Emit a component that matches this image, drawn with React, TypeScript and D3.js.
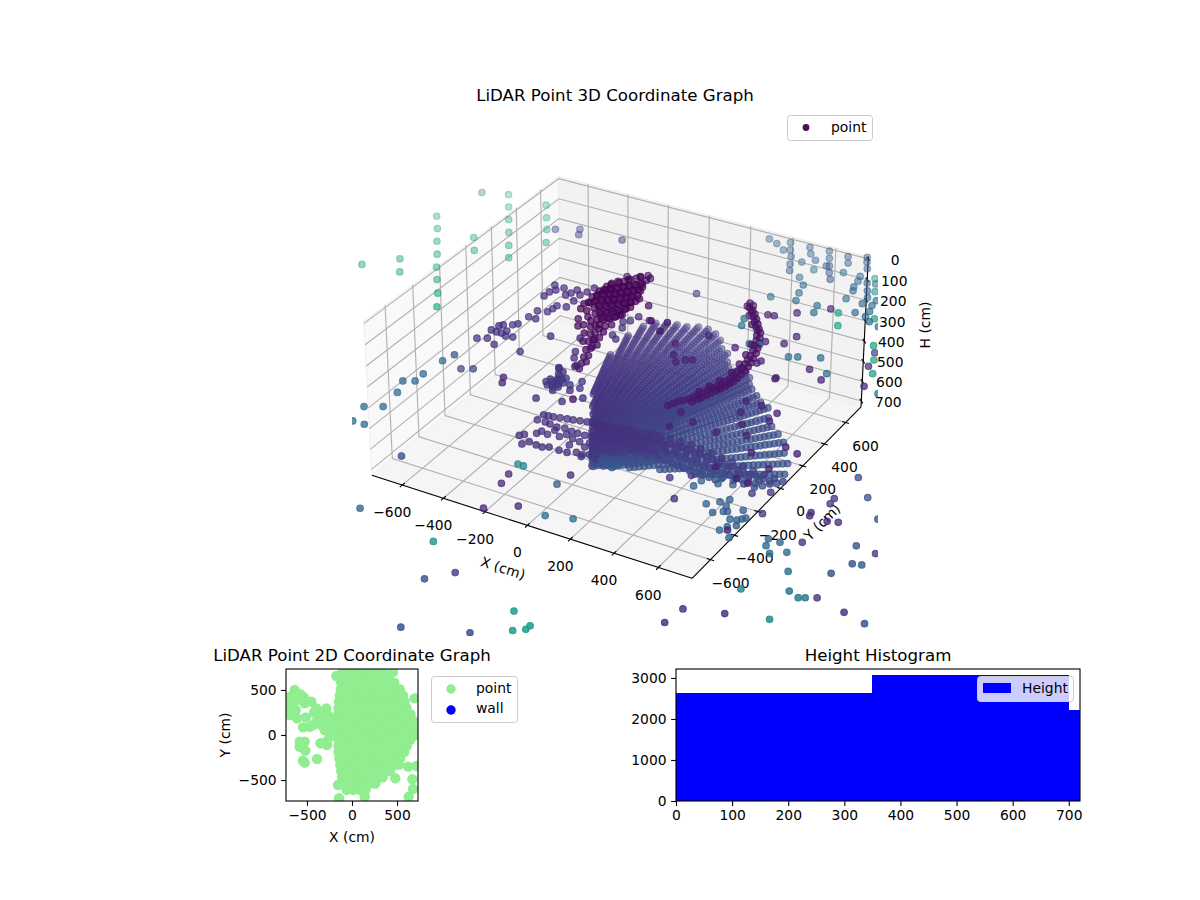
import React, { useEffect, useRef } from 'react';
import * as d3 from 'd3';

type Tri = [number, number, number];

// ---- 3D view: ticks and limits (cm), H axis runs downwards
const xyTicks = [-600, -400, -200, 0, 200, 400, 600];
const hTicks = [0, 100, 200, 300, 400, 500, 600, 700];
const xyLimit = 750;
const hTop = -11;
const hFloor = 729;

// ---- the sweep: rays from the scanner, stops along each ray (cm)
const fanOriginX = 15;
const fanOriginY = -531;
const fanHeight = 600;
const rayAngles = [108, 106, 104, 102, 100, 98, 96, 94, 92, 90, 88, 86, 84, 82, 80, 78, 76, 74, 72, 70, 67, 64, 61, 57, 53, 49, 45, 40, 35, 30];
const rayStart = [635, 550, 480, 427, 386, 350, 325, 300, 280, 264, 250, 236, 225, 213, 205, 197, 190, 182, 178, 172, 165, 158, 153, 147, 150, 185, 222, 280, 395, 536];
const rayReach = [1000, 1180, 1280, 1310, 1340, 1345, 1340, 1360, 1365, 1345, 1290, 1235, 1215, 1150, 1110, 1150, 1130, 1110, 1080, 1060, 1045, 1025, 1012, 985, 960, 953, 955, 945, 935, 925];
const rayTone = [0.15, 0.15, 0.15, 0.16, 0.16, 0.16, 0.17, 0.17, 0.17, 0.18, 0.18, 0.18, 0.18, 0.19, 0.19, 0.19, 0.2, 0.2, 0.2, 0.21, 0.21, 0.22, 0.22, 0.23, 0.23, 0.24, 0.24, 0.25, 0.25, 0.26];
const rayStops = [130, 150, 170, 190, 210, 230, 250, 270, 290, 310, 330, 350, 370, 390, 410, 430, 450, 470, 490, 510, 530, 550, 570, 590, 610, 630, 650, 670, 690, 710, 730, 750, 770, 790, 810, 830, 850, 870, 890, 910, 930, 950, 970, 990, 1010, 1030, 1050, 1070, 1090, 1110, 1130, 1150, 1170, 1190, 1210, 1230, 1250, 1270, 1290, 1310, 1330, 1350, 1370];

// ---- single returns: [x, y, colour value]
const paleWall: Tri[] = [
  [-1367, 110, 0.58], [-1253, 236, 0.58], [-1186, 135, 0.58], [-1338, 659, 0.58], [-1269, 559, 0.58], [-1204, 456, 0.58],
  [-1136, 354, 0.58], [-1072, 251, 0.58], [-1008, 157, 0.58], [-938, 56, 0.58], [-875, -47, 0.58], [-1082, 567, 0.58],
  [-1014, 465, 0.58], [-1173, 1004, 0.58], [-1107, 899, 0.58], [-1041, 793, 0.58], [-974, 687, 0.58], [-908, 581, 0.58],
  [-847, 483, 0.58], [-970, 999, 0.58], [-903, 893, 0.58], [-842, 795, 0.58], [-780, 687, 0.58], [-1290, 962, 0.38],
];
const rightWall: Tri[] = [
  [58, 1210, 0.3], [107, 1187, 0.3], [160, 1147, 0.3], [155, 1226, 0.3], [186, 1163, 0.3], [217, 1110, 0.3], [245, 1045, 0.3], [271, 990, 0.3],
  [281, 1087, 0.36], [358, 1050, 0.38], [249, 1229, 0.3], [280, 1176, 0.3], [325, 1132, 0.3], [339, 1240, 0.3], [370, 1178, 0.3], [401, 1115, 0.28],
  [390, 1108, 0.28], [428, 1059, 0.28], [459, 1006, 0.28], [336, 957, 0.34], [382, 902, 0.34], [398, 830, 0.34], [309, 739, 0.37], [418, 762, 0.34],
  [516, 767, 0.37], [531, 706, 0.34], [433, 1234, 0.28], [460, 1179, 0.28], [481, 1090, 0.36], [559, 1095, 0.34], [570, 1051, 0.34], [577, 995, 0.34],
  [590, 962, 0.34], [612, 1055, 0.3], [647, 1066, 0.34], [643, 993, 0.3], [670, 938, 0.32], [714, 932, 0.32], [595, 884, 0.38], [674, 879, 0.34],
  [682, 793, 0.34], [717, 884, 0.32], [731, 832, 0.34], [735, 783, 0.34], [768, 752, 0.34], [527, 1229, 0.28], [555, 1174, 0.28], [509, 1269, 0.28],
  [820, 731, 0.37], [856, 702, 0.38], [864, 706, 0.38],
];
const rightTeal: Tri[] = [
  [623, 1109, 0.58], [675, 1002, 0.52], [776, 785, 0.56], [622, 755, 0.58], [669, 655, 0.58], [872, 576, 0.56], [925, 469, 0.58], [969, 366, 0.56],
  [1057, 232, 0.42], [1140, 113, 0.3], [807, 273, 0.36], [728, 376, 0.36], [643, 336, 0.37], [610, 317, 0.37], [301, 512, 0.37], [320, 454, 0.37], [419, 334, 0.37], [460, 349, 0.37],
];
const darkReturns: Tri[] = [
  [22, 605, 0.18], [372, 592, 0.1], [399, 598, 0.1], [471, 668, 0.1], [579, 770, 0.1], [562, 485, 0.1], [544, 406, 0.1], [731, 269, 0.1], [810, 216, 0.1],
  [983, 257, 0.12], [928, 412, 0.14], [644, 140, 0.1], [902, 525, 0.2],
  [441, -290, 0.1], [455, -409, 0.1], [519, -334, 0.1], [635, -355, 0.1], [647, -171, 0.1], [694, -252, 0.1], [626, -85, 0.1], [695, -85, 0.1], [777, -175, 0.1],
  [776, -107, 0.1], [751, -318, 0.1], [940, -493, 0.1], [923, -318, 0.1], [984, -340, 0.1], [826, -421, 0.1], [864, -615, 0.1], [917, -624, 0.1], [755, -580, 0.1],
  [255, 83, 0.1], [281, 98, 0.1], [241, 311, 0.1], [384, 275, 0.1], [521, 207, 0.1], [528, 231, 0.1], [644, 131, 0.1], [469, 383, 0.1], [154, 182, 0.1], [193, 96, 0.1], [230, 49, 0.1], [-36, 298, 0.08], [38, 321, 0.08],
];
const leftWall: Tri[] = [
  [-588, -354, 0.25], [-603, -420, 0.36], [-502, -438, 0.22], [-459, -413, 0.22], [-613, -549, 0.33], [-653, -638, 0.33], [-610, -613, 0.36], [-621, -725, 0.36],
  [-650, -998, 0.38], [-674, -884, 0.38], [-608, -846, 0.38], [-596, -996, 0.38], [-336, -1121, 0.25],
];
const upperArc: Tri[] = [
  [259, 645, 0.05], [277, 606, 0.05], [301, 580, 0.05], [326, 546, 0.05], [351, 511, 0.05], [375, 476, 0.05], [396, 449, 0.05], [414, 410, 0.05], [432, 371, 0.05], [445, 330, 0.05], [459, 289, 0.05],
  [470, 246, 0.05], [476, 210, 0.05], [482, 175, 0.05], [488, 138, 0.05], [485, 108, 0.06], [487, 70, 0.06], [486, 40, 0.06], [480, 16, 0.06], [477, -14, 0.06], [468, -40, 0.06], [461, -63, 0.06],
  [452, -88, 0.07], [445, -111, 0.07], [436, -137, 0.07], [429, -159, 0.07], [419, -185, 0.07], [405, -204, 0.07], [391, -221, 0.07], [381, -247, 0.07], [371, -271, 0.07],
  [261, 616, 0.05], [307, 545, 0.05], [353, 483, 0.05], [430, 332, 0.05], [450, 245, 0.05], [463, 164, 0.05], [468, 88, 0.06], [458, 4, 0.06], [442, -55, 0.06], [426, -113, 0.07],
  [281, 633, 0.04], [299, 594, 0.04], [323, 568, 0.04], [348, 534, 0.04], [373, 499, 0.04], [397, 464, 0.04], [418, 437, 0.04], [436, 398, 0.04], [454, 359, 0.04], [467, 318, 0.04], [481, 277, 0.04],
  [492, 234, 0.04], [498, 198, 0.04], [504, 163, 0.04], [510, 126, 0.04], [507, 96, 0.05], [509, 58, 0.05], [508, 28, 0.05], [502, 4, 0.05], [499, -26, 0.05], [490, -52, 0.05], [483, -75, 0.05],
  [474, -100, 0.06], [467, -123, 0.06], [458, -149, 0.06], [451, -171, 0.06], [441, -197, 0.06],
];

// the dark cluster behind the sweep, all at 200 cm
const darkCluster: Tri[] = [
  [-252, 314, 0.01], [-247, 348, 0.01], [-233, 376, 0.01], [-211, 389, 0.01], [-198, 417, 0.01], [-179, 437, 0.01], [-172, 460, 0.01], [-148, 484, 0.02], [-133, 443, 0.02], [-131, 405, 0.01], [-127, 467, 0.02],
  [-257, 262, 0.01], [-239, 283, 0.01], [-222, 303, 0.01], [-203, 324, 0.01], [-185, 344, 0.01], [-167, 364, 0.01], [-149, 385, 0.01], [-118, 383, 0.02],
  [-257, 203, 0.01], [-248, 229, 0.01], [-225, 242, 0.01], [-203, 255, 0.01], [-185, 275, 0.01], [-166, 295, 0.01], [-149, 315, 0.01], [-131, 335, 0.01], [-108, 348, 0.01],
  [-257, 134, 0.02], [-240, 154, 0.01], [-225, 182, 0.01], [-203, 195, 0.01], [-181, 208, 0.01], [-162, 227, 0.01], [-145, 248, 0.01], [-127, 268, 0.01], [-108, 289, 0.01], [-78, 287, 0.02],
  [-203, 125, 0.01], [-185, 145, 0.01], [-162, 158, 0.01], [-145, 179, 0.01], [-127, 199, 0.01], [-108, 220, 0.01], [-91, 240, 0.01], [-15, 254, 0.02],
  [-186, 46, 0.02], [-173, 83, 0.01], [-151, 96, 0.01], [-133, 116, 0.01], [-115, 136, 0.01], [-97, 157, 0.01], [-84, 185, 0.01],
  [-212, 11, 0.04], [-167, -22, 0.03], [-141, 43, 0.01], [-118, 56, 0.01], [-100, 76, 0.01], [-86, 104, 0.01], [-72, 132, 0.02],
  [-85, 15, 0.02], [-94, -20, 0.02], [-67, 36, 0.02],
  [-103, -74, 0.03], [-80, -130, 0.03], [-53, -195, 0.04], [-30, -251, 0.05], [-12, -299, 0.06], [2, -340, 0.07], [-22, -334, 0.07], [-133, -22, 0.03], [-66, -102, 0.04], [-44, -159, 0.04], [-99, -141, 0.04],
  [-247, 282, 0], [-229, 303, 0], [-212, 323, 0], [-193, 344, 0], [-175, 364, 0], [-157, 384, 0], [-139, 405, 0],
  [-247, 223, 0], [-238, 249, 0], [-215, 262, 0], [-193, 275, 0], [-175, 295, 0], [-156, 315, 0], [-139, 335, 0], [-121, 355, 0],
  [-247, 154, 0], [-230, 174, 0], [-215, 202, 0], [-193, 215, 0], [-171, 228, 0], [-152, 247, 0], [-135, 268, 0], [-117, 288, 0], [-98, 309, 0],
  [-193, 145, 0], [-175, 165, 0], [-152, 178, 0], [-135, 199, 0], [-117, 219, 0], [-98, 240, 0], [-81, 260, 0],
  [-163, 103, 0], [-141, 116, 0], [-123, 136, 0], [-105, 156, 0], [-87, 177, 0], [-74, 205, 0],
  [-131, 63, 0], [-108, 76, 0], [-90, 96, 0], [-76, 124, 0],
  [-93, -54, 0.02], [-70, -110, 0.02], [-43, -175, 0.03], [-20, -231, 0.04], [-2, -279, 0.05], [-123, -2, 0.02], [-56, -82, 0.03], [-34, -139, 0.03],
  [-243, 334, 0], [-223, 368, 0], [-201, 409, 0], [-169, 457, 0],
  [-247, 91, 0.01], [-216, 88, 0.01], [-182, -41, 0.02], [-129, -80, 0.02], [-158, 22, 0.01], [-111, 10, 0.01], [-66, -33, 0.02],
];
const midPurple: Tri[] = [
  [-487, -336, 0.14], [-450, -315, 0.14], [-399, -344, 0.14], [-473, -248, 0.14], [-446, -252, 0.14], [-453, -188, 0.14], [-464, -204, 0.14], [-423, -250, 0.14], [-413, -224, 0.14], [-395, -263, 0.14], [-365, -255, 0.14],
  [-420, -168, 0.16], [-405, -150, 0.14], [-398, -77, 0.14], [-394, -15, 0.13], [-364, -77, 0.13], [-353, -1, 0.13], [-348, 32, 0.13], [-346, 63, 0.13], [-307, 74, 0.13], [-437, 109, 0.12], [-436, 150, 0.12],
  [-447, 213, 0.12], [-421, 178, 0.12], [-400, 210, 0.12], [-363, 162, 0.12], [-352, 187, 0.12], [-343, 223, 0.12], [-307, 134, 0.12], [-311, 192, 0.12], [-298, 229, 0.12], [-289, 274, 0.12],
  [-235, -171, 0.13], [-276, -342, 0.16], [-69, -381, 0.13], [-41, -396, 0.13], [-225, -551, 0.12], [-206, -590, 0.12], [-27, -625, 0.15], [-711, 654, 0.2], [-618, 708, 0.2], [-596, 661, 0.2], [-407, 712, 0.13],
  [-221, 432, 0.08], [-4, 151, 0.12], [-17, 104, 0.13], [-39, 82, 0.13], [-16, 35, 0.14], [8, -59, 0.15], [-20, -37, 0.14], [-122, -125, 0.12], [-82, -230, 0.12], [-60, -277, 0.14], [-19, -323, 0.15], [58, 147, 0.05], [131, 90, 0.05],
  [-40, -483, 0.17], [-30, -458, 0.17], [-42, -515, 0.17], [-14, -519, 0.17], [-11, -448, 0.17], [-4, -433, 0.17], [-48, -418, 0.17], [-1, -541, 0.17], [4, -508, 0.17], [36, -470, 0.15], [58, -507, 0.15], [83, -472, 0.17], [64, -423, 0.17], [-73, -374, 0.15],
  [75, -596, 0.15], [103, -559, 0.06], [133, -533, 0.15], [148, -464, 0.18],
  [-25, -470, 0.17], [-20, -495, 0.17], [-55, -470, 0.17], [-35, -430, 0.17], [-60, -495, 0.17], [-15, -470, 0.17], [5, -470, 0.17], [-28, -505, 0.17], [-5, -490, 0.17],
];

// the front band across the sweep, all at 450 cm
const frontBand: Tri[] = [
  [-150, -372, 0.14], [-129, -369, 0.13], [-107, -366, 0.13], [-79, -359, 0.13], [-50, -352, 0.13], [-25, -347, 0.13], [3, -339, 0.13], [32, -332, 0.13], [57, -327, 0.13], [85, -320, 0.13], [118, -320, 0.14], [143, -315, 0.14], [171, -308, 0.14], [200, -300, 0.14], [229, -302, 0.14], [257, -295, 0.15], [286, -288, 0.15], [311, -283, 0.15], [339, -276, 0.15],
  [-151, -419, 0.14], [-115, -417, 0.14], [-90, -421, 0.14], [-53, -428, 0.14], [-21, -419, 0.14], [15, -426, 0.14], [44, -427, 0.14], [77, -427, 0.14], [105, -420, 0.14], [125, -390, 0.14], [154, -383, 0.14], [186, -383, 0.14], [216, -376, 0.15], [244, -368, 0.15], [273, -361, 0.15], [301, -354, 0.15], [330, -347, 0.15], [358, -340, 0.15], [387, -333, 0.15],
  [-90, -486, 0.14], [-57, -495, 0.14], [-48, -453, 0.14], [-7, -485, 0.14], [10, -457, 0.14], [48, -473, 0.14], [84, -479, 0.14], [123, -466, 0.15], [159, -464, 0.15], [191, -455, 0.15], [223, -446, 0.15], [255, -437, 0.16], [287, -427, 0.16], [319, -418, 0.16], [351, -409, 0.16], [383, -400, 0.16],
  [-107, -609, 0.13], [-91, -580, 0.13], [-54, -587, 0.13], [-25, -589, 0.13], [-1, -575, 0.13], [46, -576, 0.14], [82, -574, 0.14], [114, -555, 0.14], [143, -557, 0.15], [167, -543, 0.15], [208, -557, 0.15], [147, -573, 0.15], [-151, -559, 0.14], [-137, -542, 0.14], [-99, -510, 0.14], [61, -521, 0.14], [122, -504, 0.14],
  [387, -277, 0.15], [434, -277, 0.16], [481, -278, 0.16], [532, -286, 0.16], [583, -294, 0.17], [634, -302, 0.17], [685, -309, 0.18], [737, -317, 0.19], [788, -325, 0.2], [839, -333, 0.2], [886, -334, 0.21], [926, -338, 0.21],
  [402, -343, 0.16], [449, -344, 0.17], [496, -344, 0.17], [547, -352, 0.18], [594, -353, 0.18], [646, -361, 0.19], [697, -369, 0.19], [744, -369, 0.2], [795, -377, 0.21], [842, -378, 0.22], [889, -379, 0.22],
  [412, -402, 0.22], [459, -403, 0.22], [510, -410, 0.23], [562, -418, 0.23], [609, -419, 0.23], [660, -427, 0.24], [707, -428, 0.24], [754, -428, 0.25], [801, -429, 0.25], [848, -430, 0.25],
  [233, -561, 0.26], [268, -579, 0.27], [293, -583, 0.27], [303, -559, 0.27], [303, -521, 0.26], [261, -545, 0.26], [319, -483, 0.25], [358, -470, 0.25], [401, -464, 0.25],
  [100, -355, 0.13], [130, -352, 0.13], [160, -350, 0.13], [190, -348, 0.14], [220, -340, 0.14], [250, -335, 0.14], [280, -330, 0.14], [310, -325, 0.14], [340, -320, 0.15], [370, -318, 0.15], [400, -312, 0.15], [430, -310, 0.15], [460, -312, 0.15], [490, -312, 0.16], [520, -318, 0.16], [550, -322, 0.16], [580, -325, 0.17], [610, -330, 0.17], [640, -335, 0.17], [670, -340, 0.18], [700, -345, 0.18], [730, -350, 0.18], [760, -352, 0.19], [790, -355, 0.2], [820, -358, 0.2], [850, -358, 0.21], [880, -360, 0.21], [910, -360, 0.22],
  [120, -400, 0.14], [150, -415, 0.14], [180, -415, 0.14], [210, -410, 0.14], [240, -405, 0.15], [270, -400, 0.15], [300, -395, 0.15], [330, -390, 0.15], [360, -385, 0.16], [390, -380, 0.16], [420, -378, 0.16], [450, -378, 0.17], [480, -378, 0.17], [510, -380, 0.17], [540, -385, 0.18], [570, -388, 0.18], [600, -392, 0.19], [630, -395, 0.19], [660, -398, 0.2], [690, -400, 0.2], [720, -402, 0.21], [750, -404, 0.22], [780, -405, 0.22], [810, -405, 0.23], [840, -405, 0.23], [870, -405, 0.24],
  [150, -490, 0.15], [180, -490, 0.15], [210, -485, 0.16], [240, -480, 0.16], [270, -470, 0.17], [300, -460, 0.17], [330, -450, 0.18], [360, -440, 0.18], [390, -435, 0.19], [420, -432, 0.19], [450, -432, 0.2], [480, -435, 0.2], [510, -440, 0.21], [540, -445, 0.21], [570, -450, 0.22], [600, -450, 0.23], [630, -452, 0.23], [660, -455, 0.24], [690, -458, 0.24],
];

// floor level returns, all at 600 cm
const floorPoints: Tri[] = [
  [528, -336, 0.3], [536, -286, 0.3], [605, -273, 0.3], [599, -232, 0.3], [660, -250, 0.3], [635, -427, 0.3], [675, -387, 0.3], [701, -353, 0.3], [687, -470, 0.3], [720, -442, 0.3], [734, -434, 0.3], [711, -402, 0.3], [769, -478, 0.32],
  [784, -396, 0.3], [819, -440, 0.3], [809, -454, 0.3], [796, -470, 0.3], [812, -506, 0.3], [785, -531, 0.32], [770, -567, 0.34], [828, -597, 0.32], [964, -527, 0.35], [978, -574, 0.35], [1015, -615, 0.36], [1069, -575, 0.36], [1014, -526, 0.35],
  [415, -329, 0.13], [482, -271, 0.13], [507, -457, 0.13], [797, -551, 0.1], [861, -379, 0.16], [756, -268, 0.16], [817, -224, 0.16],
  [1089, -483, 0.17], [1029, -300, 0.12], [1023, -276, 0.12], [1106, -301, 0.12], [1147, -286, 0.15], [1060, -182, 0.17], [1057, -139, 0.15], [1071, 50, 0.2], [1169, -66, 0.25], [1272, -188, 0.25], [1281, -400, 0.25], [1369, -412, 0.2],
  [1322, -520, 0.25], [1357, -509, 0.3], [1281, -619, 0.25], [1308, -792, 0.2], [1438, -827, 0.17], [1536, -855, 0.27], [1133, -689, 0.38], [1197, -805, 0.38], [1246, -827, 0.4], [1269, -814, 0.4], [1032, -883, 0.45], [1218, -1006, 0.47], [906, -1108, 0.17], [1056, -1057, 0.17], [890, -1219, 0.17],
  [-168, -547, 0.45], [-141, -548, 0.45], [-160, -630, 0.12], [-148, -704, 0.12], [60, -512, 0.12], [48, -598, 0.3], [-112, -895, 0.12], [-1, -813, 0.12], [127, -819, 0.35], [234, -784, 0.38], [-534, -1139, 0.3], [-153, -1193, 0.5], [37, -1331, 0.2], [-41, -1425, 0.25],
  [366, -1436, 0.55], [58, -1734, 0.27], [299, -1636, 0.25], [428, -1545, 0.55], [466, -1514, 0.55], [468, -1487, 0.55], [427, -1622, 0.55], [205, -1784, 0.27],
];

const scatterGroups: { h: number; points: Tri[] }[] = [
  { h: 300, points: paleWall },
  { h: 300, points: rightWall },
  { h: 300, points: rightTeal },
  { h: 300, points: darkReturns },
  { h: 300, points: leftWall },
  { h: 300, points: upperArc },
  { h: 200, points: darkCluster },
  { h: 200, points: midPurple },
  { h: 450, points: frontBand },
  { h: 600, points: floorPoints },
];

// ---- 2D panel, rows of the solid area: [y, x values]
const topRows: [number, number[]][] = [
  [720, [-100, -25, 50, 125, 200, 275, 340]],
  [650, [-110, -35, 40, 115, 190, 265, 340, 400]],
  [580, [-120, -45, 30, 105, 180, 255, 330, 405, 470]],
  [510, [-125, -50, 25, 100, 175, 250, 325, 400, 475, 530]],
  [440, [-135, -65, 10, 85, 160, 235, 310, 385, 460, 535, 565]],
  [370, [-145, -75, 0, 75, 150, 225, 300, 375, 450, 525, 585]],
  [300, [-150, -75, 0, 75, 150, 225, 300, 375, 450, 525, 605]],
  [230, [-150, -75, 0, 75, 150, 225, 300, 375, 450, 525, 600, 650]],
  [160, [-150, -75, 0, 75, 150, 225, 300, 375, 450, 525, 600, 680]],
  [90, [-150, -75, 0, 75, 150, 225, 300, 375, 450, 525, 600, 680]],
  [20, [-150, -75, 0, 75, 150, 225, 300, 375, 450, 525, 600, 650]],
  [-50, [-150, -75, 0, 75, 150, 225, 300, 375, 450, 525, 600, 650]],
  [-120, [-150, -75, 0, 75, 150, 225, 300, 375, 450, 525, 610]],
  [-190, [-150, -75, 0, 75, 150, 225, 300, 375, 450, 525, 580]],
  [-260, [-140, -65, 10, 85, 160, 235, 310, 385, 460, 535]],
  [-330, [-130, -55, 20, 95, 170, 245, 320, 395, 470, 520]],
  [-400, [-120, -45, 30, 105, 180, 255, 330, 420]],
  [-470, [-110, -35, 40, 115, 190, 265, 340]],
  [-540, [-100, -25, 50, 125, 200, 260]],
  [-610, [-60, 15, 90, 150]],
];
const topLobesX = [-174, 455, -636, -692, -610, -692, -625, -610, -514, -692, -533, -451, -525, -396, -285, -359, -285, -433, -544, -340, -581, -525, -581, -518, -351, -277, -544, -525, -388, -470, -396, -303, -248, -248, -303, -248, -285, 695, 714, 714, 622, 670, 677, 629, 481, -144, 141, -155, 307, -680, -570, -640, -420, -220, -225];
const topLobesY = [655, 700, 500, 425, 388, 296, 277, 185, 196, 222, 418, 370, 352, 296, 296, 222, 203, 111, 85, 111, -74, -74, -130, -174, -92, -111, -285, -307, -266, 92, 148, 55, 92, 203, 130, -18, -74, 407, 0, -344, -351, -492, -600, -685, -481, -703, -685, -555, 703, 350, 450, 240, 250, 150, 50];
const topTicks = [-500, 0, 500];

// ---- histogram
const histEdges = [0, 350, 700, 720];
const histCounts = [2635, 3075, 2220];
const histXTicks = [0, 100, 200, 300, 400, 500, 600, 700];
const histYTicks = [0, 1000, 2000, 3000];

const FONT = '"DejaVu Sans", sans-serif';
const TICK_SIZE = 13.89;
const TITLE_SIZE = 16.67;

// view of the 3D box: elevation 30, azimuth -60, camera distance 10
const boxX = d3.scaleLinear().domain([-xyLimit, xyLimit]).range([-0.635, 0.635]);
const boxY = d3.scaleLinear().domain([-xyLimit, xyLimit]).range([-0.635, 0.635]);
const boxH = d3.scaleLinear().domain([hFloor, hTop]).range([-0.307, 0.307]);
const screenX = d3.scaleLinear().domain([0, 1]).range([621.3, 621.3 + 2862]);
const screenY = d3.scaleLinear().domain([0, 1]).range([365.4, 365.4 - 2862]);
const shade = d3.scaleLinear().domain([-1, -0.5, -0.2, 1]).range([0.32, 0.48, 0.68, 0.85]).clamp(true);

const project = (x: number, y: number, h: number) => {
  const qx = boxX(x);
  const qy = boxY(y);
  const qz = boxH(h);
  const xc = 0.866 * qx + 0.5 * qy;
  const yc = -0.25 * qx + 0.433 * qy + 0.866 * qz;
  const depth = 0.433 * qx - 0.75 * qy + 0.5 * qz;
  const d = 10 - depth;
  return { px: screenX(xc / d), py: screenY(yc / d), depth };
};

const App: React.FC = () => {
  const svgRef = useRef<SVGSVGElement | null>(null);

  useEffect(() => {
    const svg = d3.select(svgRef.current);
    svg.selectAll('*').remove();
    svg.style('font-family', FONT);

    const lineOf = d3.line<number[]>().x(d => d[0]).y(d => d[1]);
    const path3d = (pts: Tri[]) => lineOf(pts.map(p => {
      const s = project(p[0], p[1], p[2]);
      return [s.px, s.py];
    }));

    const L = xyLimit;
    const view = svg.append('g');

    // panes
    const panes: { corners: Tri[]; fill: string }[] = [
      { corners: [[-L, -L, hFloor], [-L, L, hFloor], [-L, L, hTop], [-L, -L, hTop]], fill: '#f9f9f9' },
      { corners: [[-L, L, hFloor], [L, L, hFloor], [L, L, hTop], [-L, L, hTop]], fill: '#f2f2f2' },
      { corners: [[-L, -L, hFloor], [L, -L, hFloor], [L, L, hFloor], [-L, L, hFloor]], fill: '#f5f5f5' },
    ];
    view.selectAll('path.pane').data(panes).enter().append('path')
      .attr('class', 'pane')
      .attr('d', d => path3d(d.corners) + 'Z')
      .attr('fill', d => d.fill)
      .attr('stroke', '#eeeeee')
      .attr('stroke-width', 1);

    // grid
    const grid: Tri[][] = [];
    xyTicks.forEach(t => {
      grid.push([[t, -L, hFloor], [t, L, hFloor], [t, L, hTop]]);
      grid.push([[-L, t, hTop], [-L, t, hFloor], [L, t, hFloor]]);
    });
    hTicks.forEach(t => {
      grid.push([[-L, -L, t], [-L, L, t], [L, L, t]]);
    });
    view.selectAll('path.grid').data(grid).enter().append('path')
      .attr('class', 'grid')
      .attr('d', d => path3d(d))
      .attr('fill', 'none')
      .attr('stroke', '#b0b0b0')
      .attr('stroke-width', 1.1);

    // axis lines and ticks
    const axisLines: Tri[][] = [
      [[-L, -L, hFloor], [L, -L, hFloor]],
      [[L, -L, hFloor], [L, L, hFloor]],
      [[L, L, hFloor], [L, L, hTop]],
    ];
    xyTicks.forEach(t => {
      axisLines.push([[t, -L - 18, hFloor], [t, -L + 18, hFloor]]);
      axisLines.push([[L - 16, t, hFloor], [L + 16, t, hFloor]]);
    });
    hTicks.forEach(t => {
      axisLines.push([[L - 14, L + 14, t], [L + 14, L - 14, t]]);
    });
    view.selectAll('path.axis').data(axisLines).enter().append('path')
      .attr('class', 'axis')
      .attr('d', d => path3d(d))
      .attr('fill', 'none')
      .attr('stroke', '#000')
      .attr('stroke-width', 1.1);

    const label = (g: d3.Selection<any, any, any, any>, x: number, y: number, text: string, size: number, rotate = 0) =>
      g.append('text')
        .attr('transform', `translate(${x},${y}) rotate(${rotate})`)
        .attr('text-anchor', 'middle')
        .attr('dy', '0.36em')
        .attr('font-size', size)
        .attr('fill', '#000')
        .text(text);
    const fmt = (v: number) => d3.format('d')(v);

    xyTicks.forEach(t => {
      const sx = project(t, -L, hFloor);
      label(view, sx.px - 10, sx.py + 27, fmt(t), TICK_SIZE);
      const sy = project(L, t, hFloor);
      label(view, sy.px + 20, sy.py + 23, fmt(t), TICK_SIZE);
    });
    hTicks.forEach(t => {
      const s = project(L, L, t);
      label(view, s.px + 27, s.py + 1, fmt(t), TICK_SIZE);
    });
    label(view, 503, 568, 'X (cm)', TICK_SIZE, 18);
    label(view, 822, 522, 'Y (cm)', TICK_SIZE, -45);
    label(view, 925, 325, 'H (cm)', TICK_SIZE, -90);

    // scatter, sorted far to near like a depth shaded 3D scatter
    svg.append('clipPath').attr('id', 'view-clip')
      .append('rect').attr('x', 352).attr('y', 110).attr('width', 526).attr('height', 526);

    const marks: { px: number; py: number; depth: number; tone: number }[] = [];
    scatterGroups.forEach(g => {
      g.points.forEach(p => marks.push({ ...project(p[0], p[1], g.h), tone: p[2] }));
    });
    rayAngles.forEach((deg, i) => {
      const rad = (deg * Math.PI) / 180;
      rayStops.filter(r => r >= rayStart[i] && r <= rayReach[i]).forEach(r => {
        marks.push({
          ...project(fanOriginX + r * Math.cos(rad), fanOriginY + r * Math.sin(rad), fanHeight),
          tone: rayTone[i],
        });
      });
    });
    marks.sort((a, b) => d3.ascending(a.depth, b.depth));

    svg.append('g').attr('clip-path', 'url(#view-clip)')
      .selectAll('circle').data(marks).enter().append('circle')
      .attr('cx', d => d.px)
      .attr('cy', d => d.py)
      .attr('r', 3.3)
      .attr('fill', d => d3.interpolateViridis(d.tone))
      .attr('stroke', d => d3.interpolateViridis(d.tone))
      .attr('stroke-width', 1.1)
      .attr('fill-opacity', d => shade(d.depth))
      .attr('stroke-opacity', d => shade(d.depth));

    label(svg, 615, 95, 'LiDAR Point 3D Coordinate Graph', TITLE_SIZE);

    // legends
    const legendBox = (x: number, y: number, w: number, h: number, fill = '#fff', op = 0.8) =>
      svg.append('rect').attr('x', x).attr('y', y).attr('width', w).attr('height', h).attr('rx', 3)
        .attr('fill', fill).attr('fill-opacity', op).attr('stroke', '#cccccc').attr('stroke-width', 1);
    const legendText = (x: number, y: number, text: string) =>
      svg.append('text').attr('x', x).attr('y', y).attr('dy', '0.36em').attr('font-size', TICK_SIZE).attr('fill', '#000').text(text);

    legendBox(787.5, 115.5, 85, 25);
    svg.append('circle').attr('cx', 806).attr('cy', 127.5).attr('r', 3.4).attr('fill', d3.interpolateViridis(0.04));
    legendText(831, 127, 'point');

    // 2D panel
    const topX = d3.scaleLinear().domain([-733, 733]).range([286, 418]);
    const topY = d3.scaleLinear().domain([-733, 733]).range([801, 669]);
    svg.append('clipPath').attr('id', 'top-clip')
      .append('rect').attr('x', 286).attr('y', 669).attr('width', 132).attr('height', 132);

    const topPoints: [number, number][] = [];
    topRows.forEach(([y, xs]) => xs.forEach(x => topPoints.push([x, y])));
    topLobesX.forEach((x, i) => topPoints.push([x, topLobesY[i]]));

    svg.append('g').attr('clip-path', 'url(#top-clip)')
      .selectAll('circle').data(topPoints).enter().append('circle')
      .attr('cx', d => topX(d[0]))
      .attr('cy', d => topY(d[1]))
      .attr('r', 5.2)
      .attr('fill', '#90ee90');

    const styleAxis = (g: d3.Selection<SVGGElement, unknown, null, undefined>) => {
      g.attr('font-family', FONT).attr('font-size', TICK_SIZE);
      g.select('.domain').remove();
      g.selectAll('line').attr('stroke-width', 1.1);
    };
    svg.append('g').attr('transform', 'translate(0,801)')
      .call(d3.axisBottom(topX).tickValues(topTicks).tickSize(4.9).tickPadding(4.5) as any)
      .call(styleAxis as any);
    svg.append('g').attr('transform', 'translate(286,0)')
      .call(d3.axisLeft(topY).tickValues(topTicks).tickSize(4.9).tickPadding(4.5) as any)
      .call(styleAxis as any);
    svg.append('rect').attr('x', 286).attr('y', 669).attr('width', 132).attr('height', 132)
      .attr('fill', 'none').attr('stroke', '#000').attr('stroke-width', 1.1);
    label(svg, 352, 655, 'LiDAR Point 2D Coordinate Graph', TITLE_SIZE);
    label(svg, 352, 837, 'X (cm)', TICK_SIZE);
    label(svg, 225, 735, 'Y (cm)', TICK_SIZE, -90);

    legendBox(431.5, 676.5, 86, 46);
    svg.append('circle').attr('cx', 451).attr('cy', 689).attr('r', 4.7).attr('fill', '#90ee90');
    svg.append('circle').attr('cx', 451).attr('cy', 710).attr('r', 4.7).attr('fill', '#0000ff');
    legendText(476, 688, 'point');
    legendText(476, 708, 'wall');

    // histogram
    const histX = d3.scaleLinear().domain([0, 720]).range([676, 1080]);
    const histY = d3.scaleLinear().domain([0, 3219]).range([801, 669]);
    svg.append('g').selectAll('rect').data(histCounts).enter().append('rect')
      .attr('x', (_, i) => histX(histEdges[i]))
      .attr('width', (_, i) => histX(histEdges[i + 1]) - histX(histEdges[i]))
      .attr('y', d => histY(d))
      .attr('height', d => histY(0) - histY(d))
      .attr('fill', '#0000ff')
      .attr('shape-rendering', 'crispEdges');
    svg.append('g').attr('transform', 'translate(0,801)')
      .call(d3.axisBottom(histX).tickValues(histXTicks).tickSize(4.9).tickPadding(4.5).tickFormat(d3.format('d') as any) as any)
      .call(styleAxis as any);
    svg.append('g').attr('transform', 'translate(676,0)')
      .call(d3.axisLeft(histY).tickValues(histYTicks).tickSize(4.9).tickPadding(4.5).tickFormat(d3.format('d') as any) as any)
      .call(styleAxis as any);
    svg.append('rect').attr('x', 676).attr('y', 669).attr('width', 404).attr('height', 132)
      .attr('fill', 'none').attr('stroke', '#000').attr('stroke-width', 1.1);
    label(svg, 878, 655, 'Height Histogram', TITLE_SIZE);

    legendBox(977.5, 676.5, 96, 25);
    svg.append('rect').attr('x', 983).attr('y', 683).attr('width', 28).attr('height', 10).attr('fill', '#0000ff');
    legendText(1022, 688, 'Height');
  }, []);

  return (
    <div>
      <svg ref={svgRef} width={1200} height={900} style={{ position: 'absolute', left: 0, top: 0, background: '#fff' }} />
    </div>
  );
};

export default App;
